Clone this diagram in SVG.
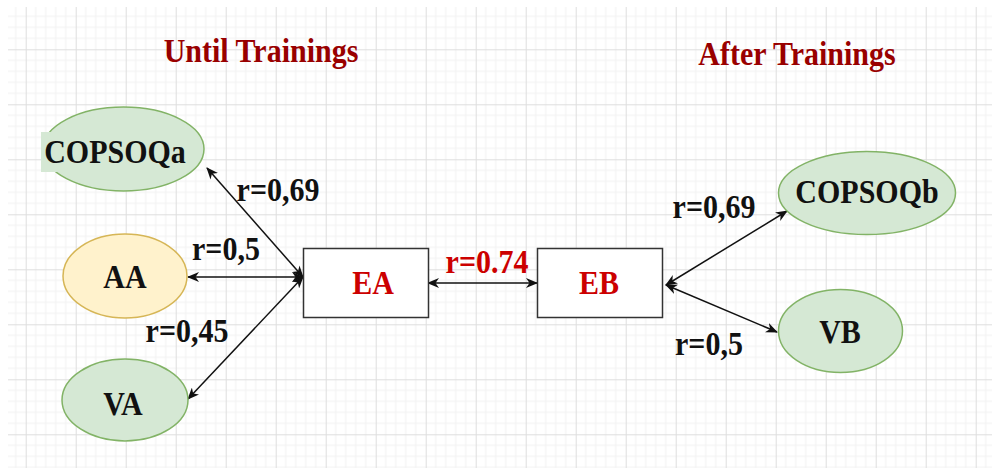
<svg xmlns="http://www.w3.org/2000/svg" width="992" height="468" viewBox="0 0 992 468">
  <defs>
    <pattern id="grid" patternUnits="userSpaceOnUse" x="25.7" y="49.3" width="50" height="55">
      <path d="M10,0V55M20,0V55M30,0V55M40,0V55M0,11H50M0,22H50M0,33H50M0,44H50" stroke="#f1f1f1" stroke-width="1" fill="none"/>
      <path d="M0.5,0V55M0,0.5H50" stroke="#dedede" stroke-width="1" fill="none"/>
    </pattern>
    <marker id="arrow" viewBox="0 0 12 10" refX="11" refY="5" markerWidth="12" markerHeight="10" markerUnits="userSpaceOnUse" orient="auto-start-reverse">
      <path d="M0,0 L12,5 L0,10 L3.5,5 z" fill="#111"/>
    </marker>
    <style>
      .lbl { font-family: "Liberation Serif", "Times New Roman", serif; font-weight: bold; font-size: 30px; text-anchor: middle; }
      .title { fill: #990000; }
      .red { fill: #cc0000; }
      .blk { fill: #111; }
      .green { fill: #d5e8d4; stroke: #82b366; stroke-width: 1.5; }
      .yellow { fill: #fff2cc; stroke: #d6b656; stroke-width: 1.5; }
      .box { fill: #ffffff; stroke: #333333; stroke-width: 1.5; }
      .edge { stroke: #111; stroke-width: 1.5; fill: none; marker-start: url(#arrow); marker-end: url(#arrow); }
    </style>
  </defs>

  <!-- background grid -->
  <rect width="992" height="468" fill="#ffffff"/>
  <rect x="8" y="7" width="984" height="461" fill="url(#grid)"/>

  <!-- section titles -->
  <text class="lbl title" transform="translate(261,62) scale(1,1.1)">Until Trainings</text>
  <text class="lbl title" transform="translate(797,65) scale(1,1.1)">After Trainings</text>

  <!-- connectors -->
  <g id="connectors">
    <line class="edge" x1="303" y1="277" x2="207" y2="168"/>
    <line class="edge" x1="303" y1="277" x2="188" y2="277"/>
    <line class="edge" x1="303" y1="277" x2="188" y2="399"/>
    <line class="edge" x1="428" y1="283" x2="537" y2="283"/>
    <line class="edge" x1="666" y1="285" x2="787" y2="211"/>
    <line class="edge" x1="666" y1="285" x2="777" y2="332"/>
  </g>

  <!-- connector labels -->
  <g id="edge-labels">
    <text class="lbl blk" transform="translate(278,201) scale(1,1.1)">r=0,69</text>
    <text class="lbl blk" transform="translate(226,260) scale(1,1.1)">r=0,5</text>
    <text class="lbl blk" transform="translate(187,342) scale(1,1.1)">r=0,45</text>
    <text class="lbl red" transform="translate(487,273) scale(1,1.1)">r=0.74</text>
    <text class="lbl blk" transform="translate(714,218) scale(1,1.1)">r=0,69</text>
    <text class="lbl blk" transform="translate(709,355) scale(1,1.1)">r=0,5</text>
  </g>

  <!-- nodes -->
  <g id="COPSOQa">
    <ellipse class="green" cx="123.5" cy="149" rx="80.5" ry="42"/>
    <rect x="41" y="132" width="147" height="40" fill="#d5e8d4"/>
    <text class="lbl blk" transform="translate(115,163) scale(1,1.1)">COPSOQa</text>
  </g>
  <g id="AA">
    <ellipse class="yellow" cx="125" cy="276" rx="62" ry="42"/>
    <text class="lbl blk" transform="translate(125,288) scale(1,1.1)">AA</text>
  </g>
  <g id="VA">
    <ellipse class="green" cx="125" cy="400" rx="63" ry="41"/>
    <text class="lbl blk" transform="translate(123,415) scale(1,1.1)">VA</text>
  </g>
  <g id="EA">
    <rect class="box" x="303.5" y="248.5" width="125" height="69"/>
    <text class="lbl red" transform="translate(373,294) scale(1,1.1)">EA</text>
  </g>
  <g id="EB">
    <rect class="box" x="537.5" y="248.5" width="125" height="69"/>
    <text class="lbl red" transform="translate(599,294) scale(1,1.1)">EB</text>
  </g>
  <g id="COPSOQb">
    <ellipse class="green" cx="867" cy="193" rx="88.5" ry="41.5"/>
    <text class="lbl blk" transform="translate(867,203) scale(1,1.1)">COPSOQb</text>
  </g>
  <g id="VB">
    <ellipse class="green" cx="840.5" cy="331" rx="62" ry="41.5"/>
    <text class="lbl blk" transform="translate(840,343) scale(1,1.1)">VB</text>
  </g>
</svg>
